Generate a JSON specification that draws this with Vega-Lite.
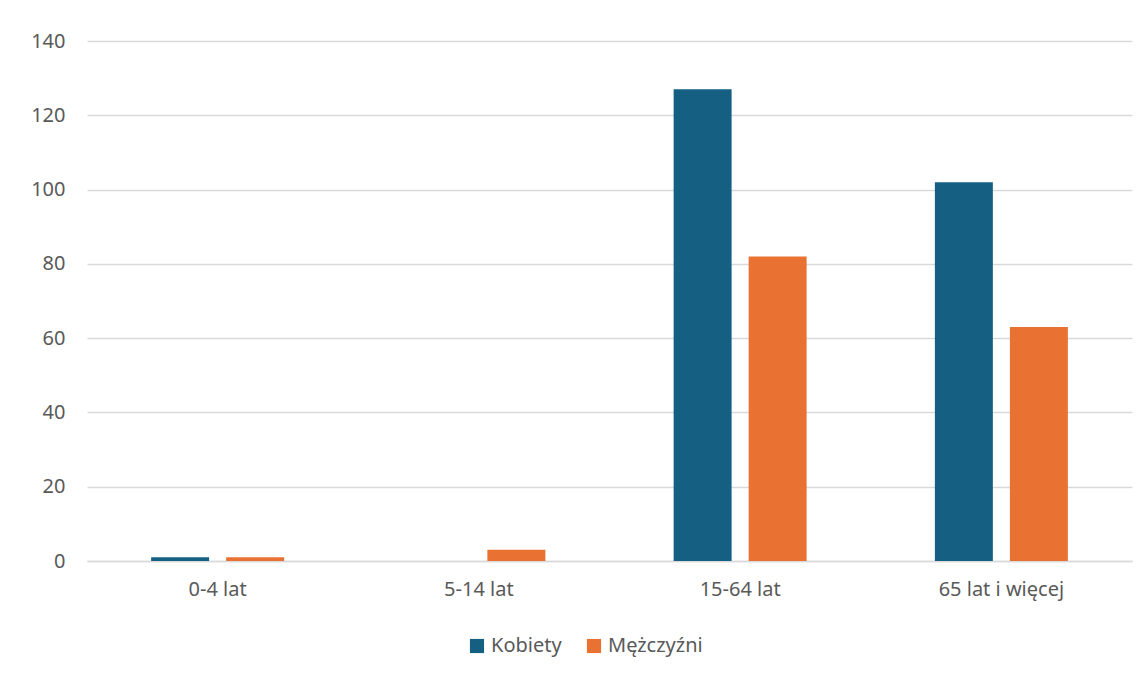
{
  "$schema": "https://vega.github.io/schema/vega-lite/v6.json",
  "autosize": {"type": "none"},
  "width": 1045,
  "height": 520,
  "padding": {"left": 87, "top": 41, "right": 16, "bottom": 116},
  "background": "white",
  "data": {
    "values": [
      {"wiek": "0-4 lat", "plec": "Kobiety", "wartosc": 1},
      {"wiek": "0-4 lat", "plec": "Mężczyźni", "wartosc": 1},
      {"wiek": "5-14 lat", "plec": "Kobiety", "wartosc": 0},
      {"wiek": "5-14 lat", "plec": "Mężczyźni", "wartosc": 3},
      {"wiek": "15-64 lat", "plec": "Kobiety", "wartosc": 127},
      {"wiek": "15-64 lat", "plec": "Mężczyźni", "wartosc": 82},
      {"wiek": "65 lat i więcej", "plec": "Kobiety", "wartosc": 102},
      {"wiek": "65 lat i więcej", "plec": "Mężczyźni", "wartosc": 63}
    ]
  },
  "mark": {"type": "bar"},
  "encoding": {
    "x": {
      "field": "wiek",
      "type": "nominal",
      "sort": ["0-4 lat", "5-14 lat", "15-64 lat", "65 lat i więcej"],
      "scale": {"paddingInner": 0, "paddingOuter": 0},
      "axis": {
        "title": null,
        "labelAngle": 0,
        "ticks": false,
        "domain": true,
        "domainColor": "#d9d9d9",
        "domainWidth": 1.5,
        "labelPadding": 18,
        "labelFontSize": 20,
        "labelColor": "#595959",
        "labelFont": "Noto Sans"
      }
    },
    "xOffset": {
      "field": "plec",
      "type": "nominal",
      "scale": {"paddingInner": 0.227, "paddingOuter": 0.855}
    },
    "y": {
      "field": "wartosc",
      "type": "quantitative",
      "scale": {"domain": [0, 140]},
      "axis": {
        "title": null,
        "values": [0, 20, 40, 60, 80, 100, 120, 140],
        "ticks": false,
        "domain": false,
        "grid": true,
        "gridColor": "#d9d9d9",
        "gridWidth": 1.5,
        "labelPadding": 22,
        "labelFontSize": 20,
        "labelColor": "#595959",
        "labelFont": "Noto Sans"
      }
    },
    "color": {
      "field": "plec",
      "type": "nominal",
      "scale": {"domain": ["Kobiety", "Mężczyźni"], "range": ["#156082", "#E97132"]},
      "legend": {
        "title": null,
        "orient": "none",
        "legendX": 380,
        "legendY": 595,
        "direction": "horizontal",
        "symbolType": "square",
        "symbolSize": 200,
        "symbolStrokeWidth": 0,
        "labelFontSize": 20,
        "labelColor": "#595959",
        "labelFont": "Noto Sans",
        "labelOffset": 4,
        "columnPadding": 22
      }
    }
  },
  "config": {"view": {"stroke": null}}
}
